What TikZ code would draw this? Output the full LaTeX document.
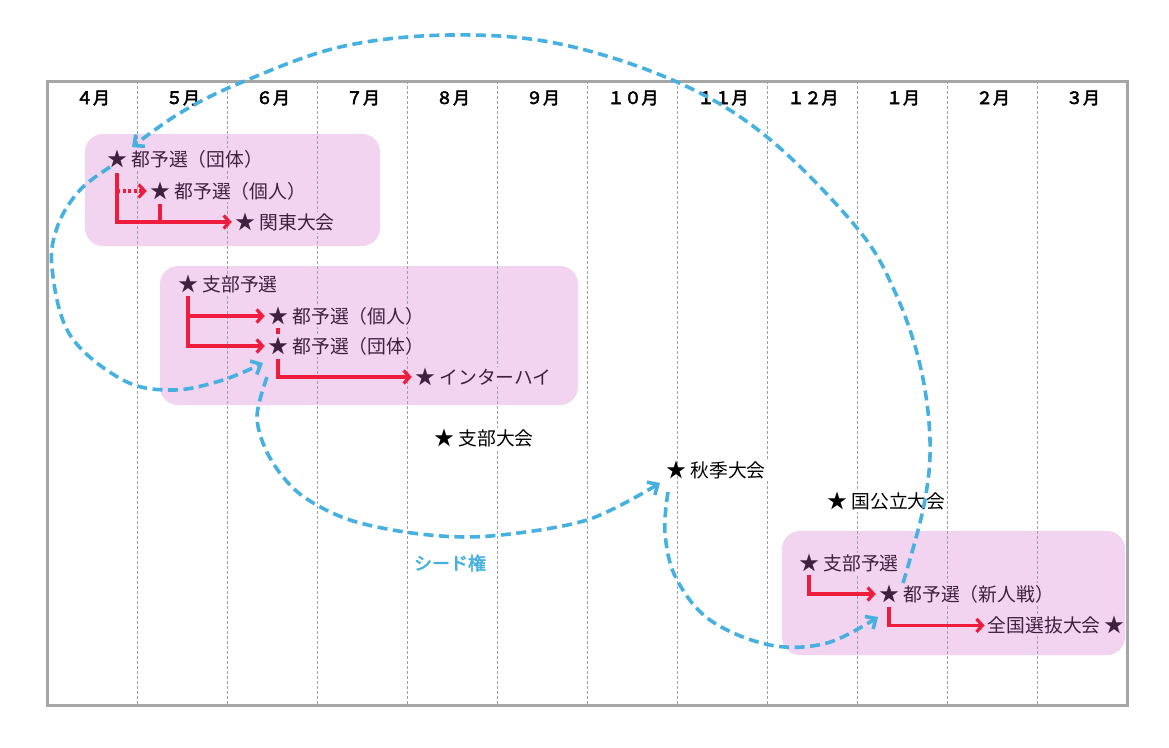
\documentclass[tikz,border=0pt]{standalone}
\usepackage{fontspec}
\setmainfont{Noto Sans CJK JP}
\newfontfamily\jpb{Noto Sans CJK JP}[FakeBold=3]
\usetikzlibrary{arrows.meta,calc}
\definecolor{gridgray}{RGB}{160,160,160}
\definecolor{framegray}{RGB}{166,166,166}
\definecolor{boxpink}{RGB}{242,211,240}
\definecolor{evpurple}{RGB}{64,32,63}
\definecolor{redc}{RGB}{238,29,62}
\definecolor{bluec}{RGB}{70,177,225}
\begin{document}
\begin{tikzpicture}[x=1pt,y=-1pt,
  evbox/.style={fill=boxpink, rounded corners=18pt},
  gridline/.style={draw=gridgray, line width=0.9pt, dash pattern=on 3pt off 2pt},
  month/.style={font=\jpb\fontsize{17}{17}\selectfont, inner sep=0pt},
  starin/.style={text=evpurple, font=\fontsize{20}{20}\selectfont, inner sep=0pt},
  starout/.style={text=black, font=\fontsize{20}{20}\selectfont, inner sep=0pt},
  lblin/.style={text=evpurple, fill=boxpink, font=\fontsize{18.8}{19}\selectfont, inner sep=2pt},
  lblout/.style={text=black, fill=white, font=\fontsize{18.8}{19}\selectfont, inner sep=2pt},
  redline/.style={draw=redc, line width=3.2pt},
  redarrow/.style={redline, -{Straight Barb[length=6pt,width=13pt]}, shorten >=3pt},
  reddot/.style={redarrow, dash pattern=on 3pt off 2.5pt},
  bluearrow/.style={draw=bluec, line width=3.6pt, dash pattern=on 10pt off 5.5pt,
    -{Straight Barb[length=8pt,width=15pt]}}
]
\useasboundingbox (0,0) rectangle (1169,747);
\fill[white] (0,0) rectangle (1169,747);

% event boxes
\fill[evbox] (85,134) rectangle (380,246);
\fill[evbox] (160,266) rectangle (578,405);
\fill[evbox] (782,531) rectangle (1125,655);

% grid
\foreach \x in {137,227,...,1037} \draw[gridline] (\x,81) -- (\x,705);
\draw[framegray, line width=3pt] (47,81) rectangle (1127,705);

% months
\node[month] (m1) at (93,98) {４月};
\node[month] (m2) at (183,98) {５月};
\node[month] (m3) at (273,98) {６月};
\node[month] (m4) at (363,98) {７月};
\node[month] (m5) at (453,98) {８月};
\node[month] (m6) at (543,98) {９月};
\node[month] (m7) at (633,98) {１０月};
\node[month] (m8) at (723,98) {１１月};
\node[month] (m9) at (813,98) {１２月};
\node[month] (m10) at (903,98) {１月};
\node[month] (m11) at (993,98) {２月};
\node[month] (m12) at (1083,98) {３月};

% box 1
\node[starin] (A) at (117,159) {★};
\node[lblin, anchor=base west] (At) at ($(A.base east)+(2,0)$) {都予選（団体）};
\node[starin] (B) at (160,191) {★};
\node[lblin, anchor=base west] (Bt) at ($(B.base east)+(2,0)$) {都予選（個人）};
\node[starin] (C) at (245,222) {★};
\node[lblin, anchor=base west] (Ct) at ($(C.base east)+(2,0)$) {関東大会};

% box 2
\node[starin] (D) at (188,284) {★};
\node[lblin, anchor=base west] (Dt) at ($(D.base east)+(2,0)$) {支部予選};
\node[starin] (E) at (278,316) {★};
\node[lblin, anchor=base west] (Et) at ($(E.base east)+(2,0)$) {都予選（個人）};
\node[starin] (F) at (278,346) {★};
\node[lblin, anchor=base west] (Ft) at ($(F.base east)+(2,0)$) {都予選（団体）};
\node[starin] (G) at (425,377) {★};
\node[lblin, anchor=base west] (Gt) at ($(G.base east)+(2,0)$) {インターハイ};

% outside
\node[starout] (H) at (444,438) {★};
\node[lblout, anchor=base west] (Ht) at ($(H.base east)+(2,0)$) {支部大会};
\node[starout] (I) at (676,470) {★};
\node[lblout, anchor=base west] (It) at ($(I.base east)+(2,0)$) {秋季大会};
\node[starout] (J) at (837,501) {★};
\node[lblout, anchor=base west] (Jt) at ($(J.base east)+(2,0)$) {国公立大会};

% box 3
\node[starin] (K) at (809,563) {★};
\node[lblin, anchor=base west] (Kt) at ($(K.base east)+(2,0)$) {支部予選};
\node[starin] (L) at (889,594) {★};
\node[lblin, anchor=base west] (Lt) at ($(L.base east)+(2,0)$) {都予選（新人戦）};
\node[starin] (M) at (1114,625) {★};
\node[lblin, anchor=base east] (Mt) at ($(M.base west)+(-1,0)$) {全国選抜大会};

% red connectors
\draw[redarrow, shorten <=5pt] (A.south) |- (C.west);
\draw[reddot] (A.south |- B.west) -- (B.west);
\draw[redline, shorten <=4pt] (B.south) -- (B.south |- C.west);

\draw[redarrow, shorten <=3pt] (D.south) |- (F.west);
\draw[redarrow] (D.south |- E.west) -- (E.west);
\draw[redline, shorten <=3pt, shorten >=3pt] (E.south) -- (F.north);
\draw[redarrow, shorten <=4pt] (F.south) |- (G.west);

\draw[redarrow, shorten <=3pt] (K.south) |- (L.west);
\draw[redarrow, shorten <=4pt, shorten >=1pt] (L.south) |- (Mt.west);

% blue seed curves
\coordinate (c1s) at ($(L.center)+(14,-11)$);
\coordinate (c1e) at ($(A.center)+(15,-12)$);
\coordinate (c2s) at ($(A.center)+(-7,8)$);
\coordinate (c2e) at ($(F.center)+(-15,17)$);
\coordinate (c3s) at ($(F.center)+(-11,31)$);
\coordinate (c3e) at ($(I.center)+(-16,13)$);
\coordinate (c4s) at ($(I.center)+(-8,22)$);
\coordinate (c4e) at ($(L.center)+(-11,23)$);

\draw[bluearrow] plot[smooth, tension=0.6] coordinates {(c1s) (924,505) (930,440) (920,365) (895,292) (857,228) (767,137) (677,82) (560,44) (450,35) (340,47) (240,83) (180,113) (c1e)};
\draw[bluearrow] plot[smooth, tension=0.6] coordinates {(c2s) (80,190) (58,225) (52,268) (70,335) (123,380) (173,390) (223,380) (c2e)};
\draw[bluearrow] plot[smooth, tension=0.55] coordinates {(c3s) (257,418) (270,458) (300,494) (350,520) (420,534) (490,536) (587,520) (c3e)};
\draw[bluearrow] plot[smooth, tension=0.6] coordinates {(c4s) (665,533) (676,578) (710,620) (770,645) (827,643) (c4e)};

\node[text=bluec, font=\jpb\fontsize{18}{18}\selectfont, inner sep=0pt] (seed) at (450,563) {シード権};
\end{tikzpicture}
\end{document}
